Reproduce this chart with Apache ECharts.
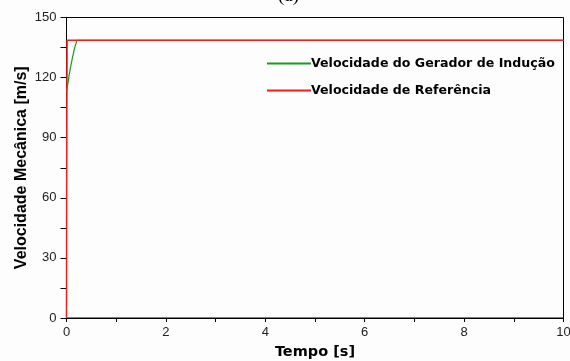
<!DOCTYPE html>
<html><head><meta charset="utf-8">
<script src="https://cdn.jsdelivr.net/npm/echarts@6/dist/echarts.min.js"></script>
<style>html,body{margin:0;padding:0;background:#fff}#c{width:570px;height:361px}</style>
</head><body><div id="c"></div>
<script>
const seriesNames = ['Velocidade do Gerador de Indução', 'Velocidade de Referência'];
const genTime = [0, 0.02, 0.04, 0.05, 0.08, 0.12, 0.16, 0.21, 10];
const genSpeed = [113, 116, 118.5, 121, 125, 130, 134.5, 138.6, 138.6];
const refTime = [0, 0.003, 0.012, 10];
const refSpeed = [0, 70, 138.6, 138.6];
const xTicks = [0, 2, 4, 6, 8, 10];
const yTicks = [0, 30, 60, 90, 120, 150];

const zip = (a, b) => a.map((v, i) => [v, b[i]]);
const chart = echarts.init(document.getElementById('c'));
chart.setOption({
  animation: false,
  backgroundColor: '#fdfdfd',
  graphic: [{type: 'text', left: 278, top: -13, style: {text: '(a)', font: '19px "Liberation Serif"', fill: '#000'}}],
  grid: {left: 66.5, right: 6.5, top: 17.5, bottom: 43, show: true, borderColor: '#000', borderWidth: 1,
         containLabel: false, outerBoundsMode: 'none'},
  legend: {
    orient: 'vertical', left: 262, top: 52, itemWidth: 44, itemHeight: 2, itemGap: 14,
    icon: 'rect',
    textStyle: {fontFamily: 'DejaVu Sans', fontWeight: 'bold', fontSize: 12.6, color: '#000', padding: [0,0,0,-5]},
    data: seriesNames
  },
  xAxis: {
    type: 'value', min: 0, max: 10, interval: 1,
    name: 'Tempo [s]', nameLocation: 'middle', nameGap: 27,
    nameTextStyle: {fontFamily: 'DejaVu Sans', fontWeight: 'bold', fontSize: 14.5, color: '#000'},
    axisLine: {lineStyle: {color: '#000'}},
    axisTick: {inside: false, length: 4, lineStyle: {color: '#000'}},
    axisLabel: {margin: 8, fontFamily: 'Liberation Sans', fontSize: 13, color: '#222',
      formatter: v => xTicks.includes(v) ? String(v) : ''},
    splitLine: {show: false}
  },
  yAxis: {
    type: 'value', min: 0, max: 150, interval: 15,
    name: 'Velocidade Mecânica [m/s]', nameLocation: 'middle', nameGap: 37, nameMoveOverlap: false,
    nameTextStyle: {fontFamily: '"Liberation Sans Narrow", "Liberation Sans"', fontWeight: 'bold', fontSize: 16, color: '#000'},
    axisLine: {lineStyle: {color: '#000'}},
    axisTick: {inside: false, length: 6, lineStyle: {color: '#000'}},
    axisLabel: {margin: 10, fontFamily: 'Liberation Sans', fontSize: 13, color: '#222',
      formatter: v => yTicks.includes(v) ? String(v) : ''},
    splitLine: {show: false}
  },
  series: [
    {name: seriesNames[0], type: 'line', data: zip(genTime, genSpeed), showSymbol: false,
     itemStyle: {color: '#1a9a1a'}, lineStyle: {color: '#1a9a1a', width: 1.2}, z: 2},
    {name: seriesNames[1], type: 'line', data: zip(refTime, refSpeed), showSymbol: false,
     itemStyle: {color: '#ff1a1a'}, lineStyle: {color: '#ff1a1a', width: 1.5}, z: 3}
  ]
});
</script></body></html>
